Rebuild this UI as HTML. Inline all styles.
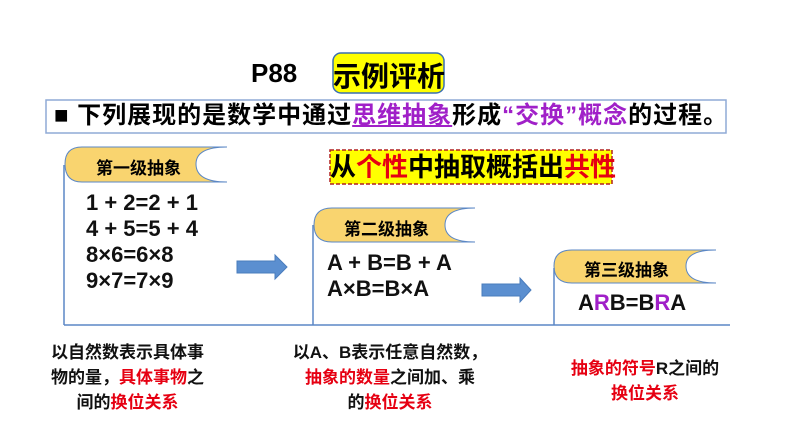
<!DOCTYPE html>
<html><head><meta charset="utf-8"><style>
body{margin:0;width:794px;height:447px;background:#fff;position:relative;overflow:hidden;font-family:"Liberation Sans","Noto Sans CJK SC",sans-serif;font-weight:bold}
.a{position:absolute;white-space:nowrap}
.r{color:#e60012}.p{color:#a020c8}
.eq{font-size:22px;line-height:26px;color:#111}
.bt{font-size:17px;line-height:25px;text-align:center;color:#111}
</style></head><body>
<svg width="794" height="447" style="position:absolute;left:0;top:0">
<rect x="333" y="53" width="111" height="40" rx="8" fill="#ffff00" stroke="#3a6fb0" stroke-width="1.5"/>
<rect x="46" y="100" width="680" height="33" fill="#fff" stroke="#8faad6" stroke-width="1.5"/>
<rect x="330" y="150" width="282" height="34" fill="#ffff00" stroke="#b02020" stroke-width="1.5" stroke-dasharray="4,2"/>
<g fill="#f9d46f" stroke="#5b87c5" stroke-width="1">
<path d="M227,147 L82,147 Q65,147 65,164 Q65,182 82,182 L227,182 Q196,182 196,164 Q196,147 227,147Z"/>
<path d="M475,208 L332,208 Q314,208 314,225 Q314,242 332,242 L475,242 Q445,242 445,225 Q445,208 475,208Z"/>
<path d="M716,250 L572,250 Q554,250 554,266 Q554,283 572,283 L716,283 Q686,283 686,266 Q686,250 716,250Z"/>
</g>
<g stroke="#5b87c5" stroke-width="1.5" fill="none">
<line x1="64" y1="165" x2="64" y2="325"/>
<line x1="313" y1="225" x2="313" y2="325"/>
<line x1="554" y1="268" x2="554" y2="325"/>
<line x1="64" y1="325" x2="730" y2="325"/>
</g>
<g fill="#5b8fd0" stroke="#4a7cbc" stroke-width="1">
<path d="M237,261 L275,261 L275,255 L287,267 L275,279 L275,273 L237,273Z"/>
<path d="M482,284 L520,284 L520,278 L531,290 L520,302 L520,296 L482,296Z"/>
</g>
</svg>
<div class="a" style="left:251px;top:58px;font-size:26px">P88</div>
<div class="a" style="left:333px;top:55px;width:111px;text-align:center;font-size:28px">示例评析</div>
<div class="a" style="left:54px;top:102px;font-size:24px;line-height:28px;letter-spacing:1px">■ 下列展现的是数学中通过<span class="p" style="text-decoration:underline">思维抽象</span>形成<span class="p">“交换”概念</span>的过程。</div>
<div class="a" style="left:330px;top:152px;width:282px;text-align:center;font-size:26px;line-height:30px">从<span class="r">个性</span>中抽取概括出<span class="r">共性</span></div>
<div class="a" style="left:96px;top:154px;font-size:17px">第一级抽象</div>
<div class="a" style="left:344px;top:215px;font-size:17px">第二级抽象</div>
<div class="a" style="left:584px;top:256px;font-size:17px">第三级抽象</div>
<div class="a eq" style="left:86px;top:190px">1 + 2=2 + 1<br>4 + 5=5 + 4<br>8×6=6×8<br>9×7=7×9</div>
<div class="a eq" style="left:327px;top:250px">A + B=B + A<br>A×B=B×A</div>
<div class="a eq" style="left:578px;top:290px">A<span class="p">R</span>B=B<span class="p">R</span>A</div>
<div class="a bt" style="left:50px;top:340px;width:155px">以自然数表示具体事<br>物的量，<span class="r">具体事物</span>之<br>间的<span class="r">换位关系</span></div>
<div class="a bt" style="left:290px;top:340px;width:200px">以A、B表示任意自然数，<br><span class="r">抽象的数量</span>之间加、乘<br>的<span class="r">换位关系</span></div>
<div class="a bt" style="left:560px;top:356px;width:170px"><span class="r">抽象的符号</span>R之间的<br><span class="r">换位关系</span></div>
</body></html>
